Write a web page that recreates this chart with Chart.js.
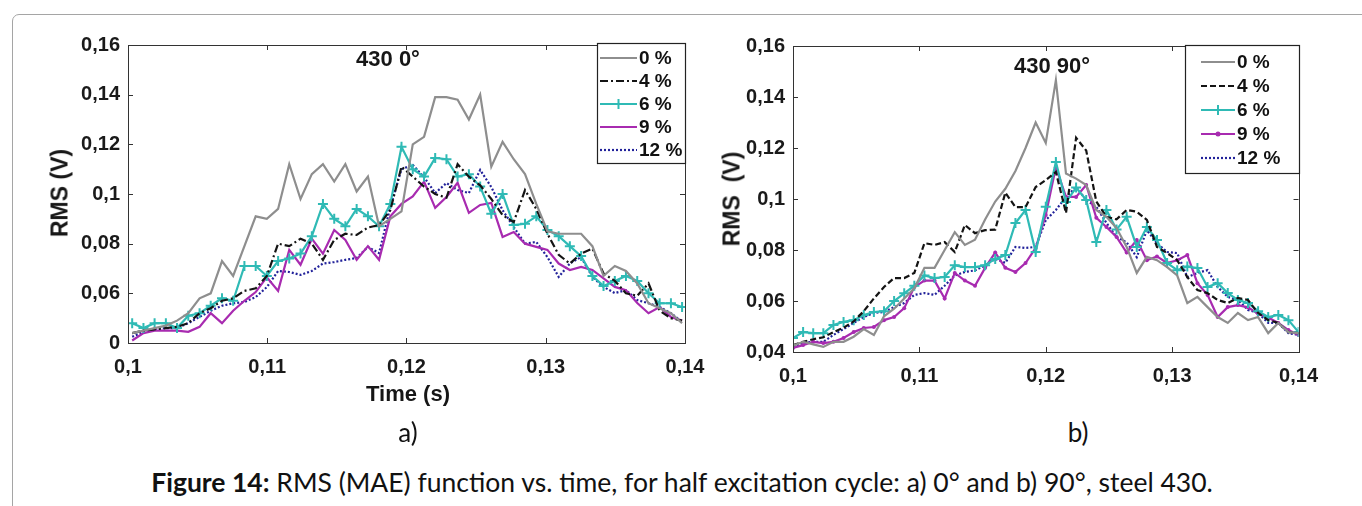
<!DOCTYPE html>
<html lang="en">
<head>
  <meta charset="UTF-8">
  <title>Figure 14 - RMS vs time</title>
  <script src="https://cdn.jsdelivr.net/npm/chart.js"></script>
  <style>
    body { margin: 0; width: 1362px; height: 506px; overflow: hidden; background: #fff; position: relative; font-family: "Liberation Sans", Arial, sans-serif; }
    .frame { position: absolute; left: 12px; top: 14px; width: 1400px; height: 600px; border: 1.5px solid #a5a5a5; border-radius: 7px; }
    canvas { position: absolute; }
    .lbl { position: absolute; transform: translate(-50%, -50%); white-space: nowrap; color: #161616; }
    .bold { font-weight: bold; }
    .rot { transform: translate(-50%, -50%) rotate(-90deg); }
    .sub { font-family: Lato, "Open Sans", sans-serif; font-size: 26px; color: #111; }
    .caption { font-family: Lato, "Open Sans", sans-serif; font-size: 26.5px; color: #111; }
  </style>
</head>
<body>
  <div class="frame"></div>
  <canvas id="chartA" width="690" height="360" style="left:30px; top:25px;"></canvas>
  <canvas id="chartB" width="630" height="370" style="left:700px; top:25px;"></canvas>

  <div class="lbl bold" style="left:388px; top:59px; font-size:22px;">430 0&deg;</div>
  <div class="lbl bold" style="left:1052px; top:66px; font-size:22px;">430 90&deg;</div>
  <div class="lbl bold rot" style="left:60px; top:193px; font-size:23px;">RMS (V)</div>
  <div class="lbl bold rot" style="left:732px; top:199px; font-size:23px;">RMS &nbsp;(V)</div>
  <div class="lbl bold" style="left:408px; top:394px; font-size:22px;">Time (s)</div>
  <div class="lbl sub" style="left:408px; top:432px;">a)</div>
  <div class="lbl sub" style="left:1078px; top:432px;">b)</div>
  <div class="lbl caption" style="left:682px; top:482px;"><b>Figure 14:</b> RMS (MAE) function vs. time, for half excitation cycle: a) 0° and b) 90°, steel 430.</div>

  <script>
    // axis ticks
    const xTickValues = [0.1, 0.11, 0.12, 0.13, 0.14];
    const xTickLabels = ['0,1', '0,11', '0,12', '0,13', '0,14'];
    const yTickValues = [0.04, 0.06, 0.08, 0.1, 0.12, 0.14, 0.16];
    const yTickLabelsA = ['0', '0,06', '0,08', '0,1', '0,12', '0,14', '0,16'];
    const yTickLabelsB = ['0,04', '0,06', '0,08', '0,1', '0,12', '0,14', '0,16'];
    const seriesLabels = ['0 %', '4 %', '6 %', '9 %', '12 %'];

    // a) 430 0deg
    const timeA = [0.10030,0.10111,0.10191,0.10272,0.10352,0.10433,0.10514,0.10594,0.10675,0.10755,
                   0.10836,0.10917,0.10997,0.11078,0.11158,0.11239,0.11320,0.11400,0.11481,0.11561,
                   0.11642,0.11723,0.11803,0.11884,0.11964,0.12045,0.12126,0.12206,0.12287,0.12367,
                   0.12448,0.12529,0.12609,0.12690,0.12770,0.12851,0.12932,0.13012,0.13093,0.13173,
                   0.13254,0.13335,0.13415,0.13496,0.13576,0.13657,0.13738,0.13818,0.13899,0.13979];
    const gray0A = [0.044,0.045,0.046,0.047,0.049,0.052,0.058,0.060,0.073,0.067,
                    0.079,0.091,0.090,0.094,0.112,0.098,0.108,0.112,0.105,0.112,
                    0.101,0.107,0.087,0.090,0.093,0.120,0.123,0.139,0.139,0.138,
                    0.130,0.140,0.111,0.121,0.114,0.108,0.096,0.085,0.084,0.084,
                    0.084,0.079,0.067,0.071,0.069,0.064,0.056,0.054,0.052,0.048];
    const black4A = [0.044,0.045,0.0455,0.046,0.0465,0.048,0.052,0.054,0.057,0.058,
                     0.061,0.062,0.067,0.080,0.079,0.082,0.080,0.0735,0.0815,0.084,
                     0.0835,0.0865,0.0875,0.0935,0.111,0.107,0.103,0.100,0.0985,0.112,
                     0.107,0.1035,0.098,0.0915,0.0887,0.1016,0.094,0.084,0.0755,0.072,
                     0.076,0.078,0.068,0.065,0.060,0.059,0.064,0.053,0.050,0.049];
    const cyan6A = [0.048,0.046,0.048,0.048,0.046,0.051,0.052,0.055,0.058,0.057,
                    0.071,0.071,0.067,0.073,0.074,0.076,0.083,0.096,0.090,0.087,
                    0.094,0.091,0.087,0.096,0.119,0.110,0.107,0.1145,0.114,0.107,
                    0.108,0.103,0.092,0.100,0.0875,0.088,0.091,0.0855,0.083,0.079,
                    0.075,0.067,0.063,0.065,0.067,0.065,0.060,0.056,0.056,0.0545];
    const mag9A = [0.041,0.044,0.045,0.045,0.045,0.0445,0.0465,0.052,0.048,0.053,
                   0.057,0.0605,0.0665,0.061,0.0775,0.0715,0.082,0.076,0.0855,0.0815,
                   0.0735,0.079,0.0735,0.091,0.096,0.099,0.105,0.0944,0.0988,0.1045,
                   0.0924,0.0956,0.0964,0.0827,0.0847,0.080,0.0787,0.0775,0.072,0.0694,
                   0.0706,0.0694,0.066,0.0626,0.0613,0.0561,0.052,0.0545,0.0505,0.049];
    const blue12A = [0.0425,0.0445,0.0455,0.046,0.046,0.048,0.0505,0.053,0.055,0.056,
                     0.0565,0.0585,0.0625,0.069,0.0686,0.0674,0.069,0.072,0.0726,0.0735,
                     0.0742,0.0787,0.0762,0.0948,0.110,0.1117,0.1068,0.1004,0.1044,0.1016,
                     0.1004,0.1097,0.1028,0.0935,0.0867,0.080,0.0807,0.0746,0.0666,0.072,
                     0.0746,0.0666,0.0626,0.0601,0.0613,0.0573,0.056,0.0545,0.052,0.0485];

    // b) 430 90deg
    const timeB = [0.1000,0.1008,0.1016,0.1024,0.1032,0.1040,0.1048,0.1056,0.1064,0.1072,
                   0.1080,0.1088,0.1096,0.1104,0.1112,0.1120,0.1128,0.1136,0.1144,0.1152,
                   0.1160,0.1168,0.1176,0.1184,0.1192,0.1200,0.1208,0.1216,0.1224,0.1232,
                   0.1240,0.1248,0.1256,0.1264,0.1272,0.1280,0.1288,0.1296,0.1304,0.1312,
                   0.1320,0.1328,0.1336,0.1344,0.1352,0.1360,0.1368,0.1376,0.1384,0.1392,0.1400];
    const gray0B = [0.0425,0.044,0.043,0.042,0.044,0.044,0.046,0.049,0.0467,0.054,
                    0.057,0.061,0.065,0.073,0.073,0.080,0.087,0.082,0.084,0.092,
                    0.099,0.104,0.111,0.120,0.130,0.122,0.1466,0.110,0.108,0.1055,
                    0.0957,0.093,0.0886,0.0812,0.071,0.0773,0.076,0.0733,0.070,0.0592,
                    0.0616,0.0576,0.0537,0.0514,0.0553,0.0525,0.0537,0.0474,0.0514,0.0478,0.0474];
    const black4B = [0.0427,0.044,0.045,0.0458,0.0478,0.0495,0.052,0.056,0.061,0.0655,
                     0.069,0.069,0.071,0.0827,0.082,0.0831,0.0792,0.0898,0.0866,0.0878,
                     0.088,0.1025,0.0968,0.0968,0.1047,0.1074,0.1106,0.0945,0.124,0.119,
                     0.099,0.093,0.092,0.0957,0.095,0.0918,0.0812,0.0788,0.076,0.0694,
                     0.0643,0.0631,0.0604,0.0592,0.0612,0.0604,0.0553,0.0525,0.0514,0.0478,0.0474];
    const cyan6B = [0.0455,0.0478,0.0474,0.0474,0.0506,0.0518,0.0525,0.0545,0.0557,0.056,
                    0.060,0.063,0.066,0.070,0.069,0.0694,0.074,0.0733,0.0733,0.074,
                    0.0765,0.078,0.0906,0.0957,0.0792,0.097,0.1145,0.0988,0.1045,0.0996,
                    0.0831,0.0957,0.088,0.093,0.0812,0.089,0.0839,0.0749,0.0721,0.0735,
                    0.0729,0.0655,0.067,0.0631,0.0604,0.0592,0.056,0.0537,0.0545,0.0525,0.0478];
    const mag9B = [0.0416,0.0427,0.044,0.0435,0.044,0.0455,0.0478,0.0494,0.0498,0.0525,
                   0.0537,0.0572,0.0655,0.068,0.068,0.061,0.071,0.068,0.066,0.073,
                   0.079,0.073,0.0714,0.0749,0.0808,0.0937,0.1125,0.1008,0.1008,0.1055,
                   0.0926,0.089,0.0851,0.079,0.0839,0.076,0.0775,0.0749,0.076,0.078,
                   0.067,0.0624,0.0537,0.0576,0.0584,0.0575,0.055,0.0535,0.0514,0.0486,0.0467];
    const blue12B = [0.042,0.0435,0.044,0.044,0.0467,0.049,0.0514,0.0537,0.0553,0.0557,
                     0.0576,0.0592,0.0624,0.0631,0.0624,0.066,0.070,0.0714,0.072,0.074,
                     0.0765,0.075,0.0812,0.0808,0.0812,0.0917,0.0957,0.1008,0.1047,0.0996,
                     0.0969,0.0906,0.0851,0.083,0.0772,0.0878,0.0827,0.0792,0.0788,0.0694,
                     0.071,0.0721,0.0655,0.0616,0.0604,0.0565,0.0553,0.0514,0.0514,0.0474,0.0467];

    const colors = ['#8e8e8e', '#141414', '#2fbab5', '#a82bb0', '#22229a'];

    Chart.defaults.font.family = '"Liberation Sans", Arial, sans-serif';
    Chart.defaults.font.weight = 'bold';
    Chart.defaults.font.size = 20;
    Chart.defaults.color = '#1a1a1a';

    // box round the plot, inward ticks, and the legend box
    const framePlugin = {
      id: 'frame',
      afterDatasetsDraw(chart, args, opts) {
        const ctx = chart.ctx;
        const a = chart.chartArea;
        const xs = chart.scales.x, ys = chart.scales.y;
        ctx.save();
        ctx.strokeStyle = '#333';
        ctx.lineWidth = 1;
        ctx.setLineDash([]);
        ctx.strokeRect(Math.round(a.left) + 0.5, Math.round(a.top) + 0.5, Math.round(a.right - a.left), Math.round(a.bottom - a.top));
        ctx.beginPath();
        xs.ticks.forEach(t => {
          const p = Math.round(xs.getPixelForValue(t.value)) + 0.5;
          ctx.moveTo(p, a.bottom); ctx.lineTo(p, a.bottom - 5);
          ctx.moveTo(p, a.top); ctx.lineTo(p, a.top + 5);
        });
        ys.ticks.forEach(t => {
          const p = Math.round(ys.getPixelForValue(t.value)) + 0.5;
          ctx.moveTo(a.left, p); ctx.lineTo(a.left + 5, p);
          ctx.moveTo(a.right, p); ctx.lineTo(a.right - 5, p);
        });
        ctx.stroke();

        // legend
        const bx = Math.round(a.right - opts.w), by = Math.round(a.top + opts.dy);
        ctx.fillStyle = '#fff';
        ctx.fillRect(bx, by, opts.w, opts.h);
        ctx.strokeStyle = '#222';
        ctx.lineWidth = 1.2;
        ctx.strokeRect(bx + 0.5, by + 0.5, opts.w, opts.h);
        chart.data.datasets.forEach((ds, i) => {
          const yy = by + opts.row0 + i * opts.gap;
          ctx.strokeStyle = ds.borderColor;
          ctx.lineWidth = ds.borderWidth;
          ctx.setLineDash(ds.borderDash || []);
          ctx.beginPath();
          ctx.moveTo(bx + opts.x0, yy);
          ctx.lineTo(bx + opts.x1, yy);
          ctx.stroke();
          ctx.setLineDash([]);
          const mx = bx + (opts.x0 + opts.x1) / 2;
          if (ds.pointStyle === 'cross') {
            ctx.lineWidth = 2;
            ctx.beginPath();
            ctx.moveTo(mx, yy - 5); ctx.lineTo(mx, yy + 5);
            ctx.stroke();
          } else if (ds.pointRadius > 0) {
            ctx.fillStyle = ds.borderColor;
            ctx.beginPath();
            ctx.arc(mx, yy, 2.5, 0, Math.PI * 2);
            ctx.fill();
          }
          ctx.fillStyle = '#111';
          ctx.font = 'bold 19px "Liberation Sans", Arial, sans-serif';
          ctx.textBaseline = 'middle';
          ctx.fillText(ds.label, bx + opts.tx, yy + 1);
        });
        ctx.restore();
      }
    };

    function makeDatasets(time, values, dash4, dots9) {
      return values.map((vals, i) => {
        const ds = {
          label: seriesLabels[i],
          data: time.map((t, k) => ({ x: t, y: vals[k] })),
          borderColor: colors[i],
          backgroundColor: colors[i],
          borderWidth: 2.2,
          pointRadius: 0,
          tension: 0
        };
        if (i === 1) ds.borderDash = dash4;
        if (i === 4) ds.borderDash = [2, 2];
        if (i === 2) {
          ds.pointStyle = 'cross';
          ds.pointRadius = 5;
          ds.pointBorderWidth = 2;
          ds.pointBorderColor = colors[i];
        }
        if (i === 3 && dots9) {
          ds.pointStyle = 'circle';
          ds.pointRadius = 2;
          ds.pointBorderWidth = 0;
          ds.pointBackgroundColor = colors[i];
        }
        return ds;
      });
    }

    function makeChart(id, datasets, yLabels, cfg) {
      return new Chart(document.getElementById(id), {
        type: 'line',
        data: { datasets },
        options: {
          responsive: false,
          animation: false,
          devicePixelRatio: 1,
          layout: { padding: cfg.padding },
          plugins: { legend: { display: false }, tooltip: { enabled: false }, frame: cfg.legend },
          scales: {
            x: {
              type: 'linear', min: 0.1, max: 0.14,
              grid: { display: false, drawTicks: false },
              border: { display: false },
              afterBuildTicks: s => { s.ticks = xTickValues.map(v => ({ value: v })); },
              afterFit: s => { s.height = cfg.xh; },
              ticks: { padding: cfg.xpad, maxRotation: 0, autoSkip: false, callback: (v, i) => xTickLabels[i] }
            },
            y: {
              type: 'linear', min: 0.04, max: 0.16,
              grid: { display: false, drawTicks: false },
              border: { display: false },
              afterBuildTicks: s => { s.ticks = yTickValues.map(v => ({ value: v })); },
              afterFit: s => { s.width = cfg.yw; },
              ticks: { padding: 8, autoSkip: false, callback: (v, i) => yLabels[i] }
            }
          }
        },
        plugins: [framePlugin]
      });
    }

    makeChart('chartA',
      makeDatasets(timeA, [gray0A, black4A, cyan6A, mag9A, blue12A], [8, 3, 2, 3], false),
      yTickLabelsA,
      { padding: { top: 20, right: 35, bottom: 0, left: 0 }, xh: 42, xpad: 12, yw: 98,
        legend: { w: 88, h: 120, dy: -2, row0: 15, gap: 23, x0: 3, x1: 40, tx: 42 } });

    makeChart('chartB',
      makeDatasets(timeB, [gray0B, black4B, cyan6B, mag9B, blue12B], [6, 3], true),
      yTickLabelsB,
      { padding: { top: 21, right: 29, bottom: 0, left: 0 }, xh: 43, xpad: 12, yw: 93,
        legend: { w: 114, h: 128, dy: -1, row0: 17, gap: 24, x0: 16, x1: 50, tx: 52 } });
  </script>
</body>
</html>
